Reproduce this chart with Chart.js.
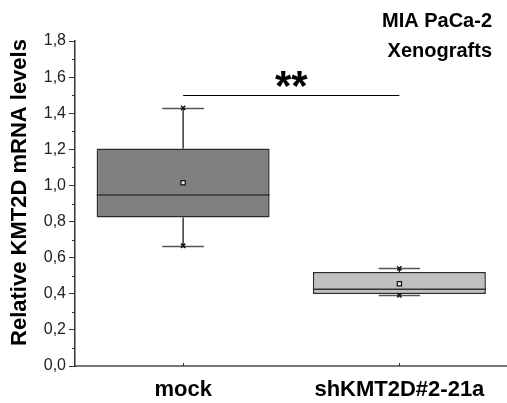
<!DOCTYPE html>
<html>
<head>
<meta charset="utf-8">
<script src="https://cdn.jsdelivr.net/npm/chart.js@4.4.1/dist/chart.umd.min.js"></script>
<style>
  html,body{margin:0;padding:0;background:#fff;overflow:hidden}
  #wrap{position:relative;width:513px;height:403px}
</style>
</head>
<body>
<div id="wrap"><canvas id="chartBox"></canvas></div>
<script>
// box plot values
const categories = ['mock', 'shKMT2D#2-21a'];
const q1 = [0.823, 0.399];
const q3 = [1.205, 0.520];
const medians = [0.947, 0.425];
const means = [1.015, 0.456];
const whiskerLow = [0.666, 0.391];
const whiskerHigh = [1.430, 0.541];
const boxColors = ['#808080', '#c0c0c0'];
const minorTicks = [0.1, 0.3, 0.5, 0.7, 0.9, 1.1, 1.3, 1.5, 1.7];
const sigY = 1.5;
const sigLabel = '**';
const panelTitle = ['MIA PaCa-2', 'Xenografts'];
const yTitle = 'Relative KMT2D mRNA levels';

const FONT = "'Liberation Sans', Arial, sans-serif";
const fmt = v => v.toFixed(1).replace('.', ',');

const boxExtras = {
  id: 'boxExtras',
  afterDatasetDraw(chart, args) {
    if (args.index !== 0) return;
    const {ctx, scales:{x, y}} = chart;
    const bars = chart.getDatasetMeta(0).data;
    ctx.save();
    categories.forEach((c, i) => {
      const cx = x.getPixelForValue(i);
      const bw = bars[i].width;
      const cap = bw * 0.12;
      // whiskers
      ctx.strokeStyle = '#1a1a1a'; ctx.lineWidth = 1.3;
      ctx.beginPath();
      ctx.moveTo(cx, y.getPixelForValue(q3[i])); ctx.lineTo(cx, y.getPixelForValue(whiskerHigh[i]));
      ctx.moveTo(cx, y.getPixelForValue(q1[i])); ctx.lineTo(cx, y.getPixelForValue(whiskerLow[i]));
      ctx.stroke();
      ctx.strokeStyle = '#555'; ctx.lineWidth = 1.3;
      ctx.beginPath();
      [whiskerHigh[i], whiskerLow[i]].forEach(v => {
        const py = Math.round(y.getPixelForValue(v)) + 0.5;
        ctx.moveTo(cx - cap, py); ctx.lineTo(cx + cap, py);
      });
      ctx.stroke();
      // median
      ctx.strokeStyle = '#333'; ctx.lineWidth = 1.5;
      const my = y.getPixelForValue(medians[i]);
      ctx.beginPath();
      ctx.moveTo(bars[i].x - bw / 2, my); ctx.lineTo(bars[i].x + bw / 2, my);
      ctx.stroke();
    });
    ctx.restore();
  },
  afterDraw(chart) {
    const {ctx, chartArea, scales:{x, y}} = chart;
    ctx.save();
    // minor ticks on y
    ctx.strokeStyle = '#333'; ctx.lineWidth = 1;
    ctx.beginPath();
    minorTicks.forEach(v => {
      const py = Math.round(y.getPixelForValue(v)) + 0.5;
      ctx.moveTo(chartArea.left - 3, py); ctx.lineTo(chartArea.left, py);
    });
    // small inward ticks on x
    categories.forEach((c, i) => {
      const px = Math.round(x.getPixelForValue(i)) + 0.5;
      ctx.moveTo(px, chartArea.bottom); ctx.lineTo(px, chartArea.bottom - 3);
    });
    ctx.stroke();
    // significance bar
    const sy = Math.round(y.getPixelForValue(sigY)) + 0.5;
    const x0 = x.getPixelForValue(0), x1 = x.getPixelForValue(1);
    ctx.strokeStyle = '#000'; ctx.lineWidth = 1;
    ctx.beginPath(); ctx.moveTo(x0, sy); ctx.lineTo(x1, sy); ctx.stroke();
    ctx.fillStyle = '#000';
    ctx.font = 'bold 42px ' + FONT;
    ctx.textAlign = 'center'; ctx.textBaseline = 'alphabetic';
    ctx.fillText(sigLabel, (x0 + x1) / 2, sy + 4);
    // panel title, top right
    ctx.font = 'bold 20px ' + FONT;
    ctx.textAlign = 'right';
    ctx.fillText(panelTitle[0], 492, 27);
    ctx.fillText(panelTitle[1], 492, 57);
    // y axis title (sits a bit above the axis middle, as in the source figure)
    ctx.translate(20, (chartArea.top + chartArea.bottom) / 2 - 11);
    ctx.rotate(-Math.PI / 2);
    ctx.font = 'bold 22px ' + FONT;
    ctx.textAlign = 'center'; ctx.textBaseline = 'middle';
    ctx.fillText(yTitle, 0, 0);
    ctx.restore();
  }
};

new Chart(document.getElementById('chartBox'), {
  type: 'bar',
  data: {
    labels: categories,
    datasets: [
      {
        label: 'box',
        data: categories.map((c, i) => [q1[i], q3[i]]),
        backgroundColor: boxColors,
        borderColor: '#2a2a2a',
        borderWidth: 1.5,
        borderSkipped: false,
        barPercentage: 0.8,
        categoryPercentage: 1,
        order: 2
      },
      {
        type: 'line', label: 'mean', data: means, showLine: false,
        pointStyle: 'rect', pointRadius: 3, pointBackgroundColor: '#e8e8e8',
        pointBorderColor: '#111', pointBorderWidth: 1.2, order: 0
      },
      {
        type: 'line', label: 'max', data: whiskerHigh, showLine: false,
        pointStyle: 'crossRot', pointRadius: 3, pointBorderColor: '#111',
        pointBorderWidth: 1.5, order: 0
      },
      {
        type: 'line', label: 'min', data: whiskerLow, showLine: false,
        pointStyle: 'crossRot', pointRadius: 3, pointBorderColor: '#111',
        pointBorderWidth: 1.5, order: 0
      }
    ]
  },
  options: {
    responsive: true, maintainAspectRatio: false, animation: false,
    layout: {padding: {top: 41, left: 0, right: 0, bottom: 0}},
    plugins: {legend: {display: false}, tooltip: {enabled: false}},
    scales: {
      x: {
        offset: true,
        grid: {display: false},
        border: {color: '#777', width: 2},
        ticks: {color: '#000', padding: 3, font: {family: FONT, size: 22, weight: 'bold'}},
        afterFit: s => { s.height = 37; }
      },
      y: {
        min: 0, max: 1.8,
        grid: {drawOnChartArea: false, tickLength: 6, tickColor: '#333'},
        border: {color: '#333', width: 1.5},
        ticks: {stepSize: 0.2, color: '#222', padding: 3, callback: fmt,
          font: {family: FONT, size: 16}},
        afterFit: s => { s.width = 75; }
      }
    }
  },
  plugins: [boxExtras]
});
</script>
</body>
</html>
